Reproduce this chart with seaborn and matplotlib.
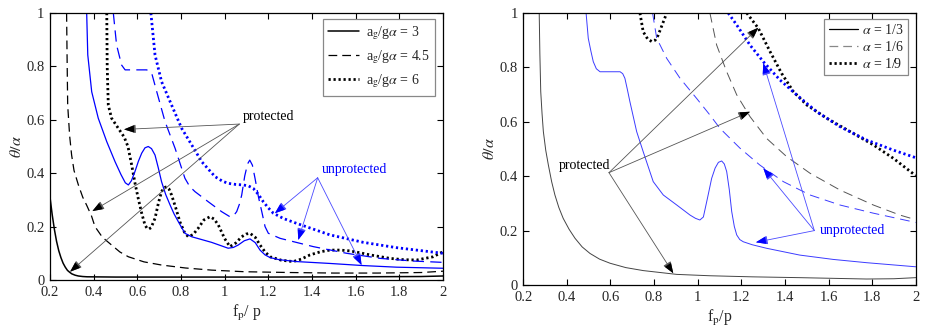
import numpy as np
import pandas as pd
import matplotlib
matplotlib.use("Agg")
import matplotlib.pyplot as plt
import seaborn as sns
from matplotlib.lines import Line2D

# ---------------- data ----------------
# Left panel: a_g/(g alpha) = 3, 4.5, 6 ; protected (black) / unprotected (blue)
L3p_x = [0.2, 0.21, 0.22, 0.23, 0.24, 0.25, 0.26, 0.27, 0.28, 0.29, 0.30, 0.315, 0.33, 0.35, 0.37,
         0.5, 0.8, 1.2, 1.6, 1.9, 2.0]
L3p_y = [0.31, 0.245, 0.19, 0.145, 0.11, 0.084, 0.063, 0.048, 0.036, 0.029, 0.023, 0.018, 0.015,
         0.013, 0.012, 0.011, 0.011, 0.011, 0.012, 0.013, 0.015]

L45p_x = [0.276, 0.278, 0.281, 0.29, 0.299, 0.31, 0.33, 0.35, 0.368, 0.39, 0.406, 0.44, 0.482, 0.52,
          0.559, 0.63, 0.711, 0.82, 0.94, 1.09, 1.3, 1.5, 1.7, 1.9, 2.0]
L45p_y = [1.0, 0.85, 0.655, 0.54, 0.468, 0.41, 0.356, 0.31, 0.28, 0.24, 0.2, 0.16, 0.131, 0.105,
          0.087, 0.068, 0.056, 0.045, 0.037, 0.031, 0.028, 0.026, 0.026, 0.028, 0.033]

L6p_x = [0.46, 0.462, 0.467, 0.482, 0.513, 0.54, 0.557, 0.574, 0.59, 0.604, 0.62, 0.635, 0.645,
         0.653, 0.663, 0.681, 0.697, 0.711, 0.723, 0.734, 0.745, 0.757, 0.776, 0.795, 0.815, 0.833,
         0.855, 0.879, 0.905, 0.933, 0.952, 0.971, 1.0, 1.024, 1.05, 1.078, 1.098, 1.116, 1.14,
         1.162, 1.185, 1.208, 1.26, 1.314, 1.35, 1.391, 1.44, 1.482, 1.53, 1.574, 1.62, 1.666,
         1.757, 1.82, 1.88, 1.955, 2.0]
L6p_y = [1.0, 0.8, 0.655, 0.606, 0.568, 0.535, 0.5, 0.431, 0.36, 0.306, 0.25, 0.206, 0.193,
         0.191, 0.196, 0.231, 0.29, 0.331, 0.346, 0.349, 0.341, 0.318, 0.27, 0.218, 0.18, 0.162,
         0.17, 0.194, 0.225, 0.237, 0.228, 0.206, 0.155, 0.125, 0.138, 0.162, 0.172, 0.175, 0.16,
         0.131, 0.105, 0.087, 0.074, 0.069, 0.078, 0.094, 0.106, 0.112, 0.112, 0.109, 0.102, 0.094,
         0.081, 0.076, 0.075, 0.087, 0.106]

L3u_x = [0.368, 0.373, 0.391, 0.421, 0.46, 0.498, 0.525, 0.545, 0.559, 0.573, 0.589, 0.605, 0.62,
         0.635, 0.65, 0.665, 0.681, 0.696, 0.711, 0.73, 0.75, 0.768, 0.788, 0.818, 0.849, 0.94,
         0.985, 1.016, 1.04, 1.062, 1.09, 1.116, 1.14, 1.162, 1.185, 1.208, 1.25, 1.33, 1.482, 1.635,
         1.788, 2.0]
L3u_y = [1.0, 0.843, 0.705, 0.606, 0.518, 0.443, 0.395, 0.364, 0.356, 0.372, 0.406, 0.445, 0.475,
         0.495, 0.5, 0.492, 0.468, 0.42, 0.368, 0.32, 0.281, 0.248, 0.218, 0.175, 0.162, 0.141,
         0.128, 0.119, 0.122, 0.131, 0.147, 0.154, 0.14, 0.112, 0.094, 0.084, 0.076, 0.069, 0.062,
         0.054, 0.048, 0.044]

L45u_x = [0.49, 0.505, 0.528, 0.544, 0.6, 0.643, 0.666, 0.689, 0.727, 0.773, 0.818, 0.84, 0.864,
          0.925, 0.986, 1.024, 1.04, 1.055, 1.068, 1.078, 1.092, 1.105, 1.115, 1.127, 1.139, 1.155,
          1.17, 1.185, 1.2, 1.254, 1.406, 1.559, 1.712, 1.864, 2.0]
L45u_y = [1.0, 0.88, 0.805, 0.787, 0.787, 0.787, 0.774, 0.705, 0.593, 0.493, 0.381, 0.35, 0.331,
          0.293, 0.256, 0.237, 0.24, 0.256, 0.285, 0.318, 0.39, 0.435, 0.449, 0.43, 0.381, 0.31,
          0.256, 0.2, 0.175, 0.156, 0.125, 0.1, 0.081, 0.071, 0.066]

L6u_x = [0.662, 0.681, 0.711, 0.757, 0.803, 0.849, 0.895, 0.956, 0.99, 1.016, 1.05, 1.085, 1.11,
         1.131, 1.155, 1.177, 1.2, 1.223, 1.27, 1.33, 1.482, 1.635, 1.788, 2.0]
L6u_y = [1.0, 0.843, 0.743, 0.655, 0.568, 0.506, 0.443, 0.387, 0.37, 0.362, 0.358, 0.356, 0.352,
         0.343, 0.32, 0.293, 0.27, 0.25, 0.23, 0.212, 0.169, 0.141, 0.121, 0.1]

# Right panel: alpha = 1/3, 1/6, 1/9 ; protected (black) / unprotected (blue)
R3p_x = [0.273, 0.276, 0.28, 0.286, 0.292, 0.303, 0.315, 0.33, 0.345, 0.363, 0.383, 0.41, 0.437,
         0.47, 0.506, 0.55, 0.598, 0.67, 0.75, 0.904, 1.056, 1.25, 1.468, 1.775, 1.9, 2.0]
R3p_y = [1.0, 0.85, 0.711, 0.63, 0.564, 0.495, 0.441, 0.38, 0.331, 0.285, 0.245, 0.205, 0.172,
         0.14, 0.116, 0.095, 0.08, 0.064, 0.053, 0.039, 0.034, 0.03, 0.027, 0.022, 0.023, 0.027]

R3u_x = [0.488, 0.498, 0.51, 0.521, 0.535, 0.552, 0.6, 0.644, 0.656, 0.666, 0.677, 0.689, 0.72,
         0.75, 0.796, 0.842, 0.904, 0.965, 0.99, 1.01, 1.026, 1.045, 1.064, 1.08, 1.095, 1.11,
         1.122, 1.133, 1.145, 1.156, 1.168, 1.179, 1.193, 1.209, 1.25, 1.316, 1.468, 1.622, 1.775,
         2.0]
R3u_y = [1.0, 0.907, 0.86, 0.821, 0.795, 0.784, 0.784, 0.784, 0.777, 0.76, 0.72, 0.674, 0.564,
         0.49, 0.38, 0.331, 0.294, 0.257, 0.245, 0.239, 0.25, 0.32, 0.392, 0.43, 0.451, 0.456,
         0.445, 0.417, 0.35, 0.27, 0.215, 0.184, 0.167, 0.159, 0.148, 0.135, 0.11, 0.094, 0.082,
         0.067]

R6p_x = [1.056, 1.087, 1.133, 1.179, 1.24, 1.316, 1.408, 1.515, 1.653, 1.806, 1.928, 2.0]
R6p_y = [1.0, 0.882, 0.784, 0.699, 0.619, 0.539, 0.472, 0.411, 0.349, 0.294, 0.257, 0.24]

R6u_x = [0.793, 0.812, 0.858, 0.919, 0.995, 1.056, 1.102, 1.194, 1.285, 1.393, 1.515, 1.653,
         1.806, 2.0]
R6u_y = [1.0, 0.907, 0.833, 0.76, 0.686, 0.625, 0.576, 0.503, 0.441, 0.38, 0.331, 0.294,
         0.264, 0.23]

R9p_x = [0.735, 0.75, 0.77, 0.789, 0.805, 0.819, 0.858, 0.9, 1.0, 1.1, 1.2, 1.225, 1.278, 1.332,
         1.385, 1.439, 1.5, 1.592, 1.699, 1.806, 1.897, 2.0]
R9p_y = [1.0, 0.931, 0.905, 0.895, 0.9, 0.919, 1.0, 1.1, 1.25, 1.2, 1.05, 1.0, 0.944, 0.858,
         0.778, 0.711, 0.662, 0.613, 0.564, 0.515, 0.466, 0.402]

R9u_x = [1.14, 1.179, 1.24, 1.301, 1.377, 1.454, 1.546, 1.653, 1.775, 1.897, 2.0]
R9u_y = [1.0, 0.956, 0.882, 0.821, 0.754, 0.699, 0.637, 0.582, 0.533, 0.496, 0.468]

x_ticks = [0.2, 0.4, 0.6, 0.8, 1.0, 1.2, 1.4, 1.6, 1.8, 2.0]
x_ticklabels = ["0.2", "0.4", "0.6", "0.8", "1", "1.2", "1.4", "1.6", "1.8", "2"]
y_ticks = [0, 0.2, 0.4, 0.6, 0.8, 1.0]
y_ticklabels = ["0", "0.2", "0.4", "0.6", "0.8", "1"]

left_legend = [r"a$_\mathrm{g}$/g$\alpha$ = 3", r"a$_\mathrm{g}$/g$\alpha$ = 4.5", r"a$_\mathrm{g}$/g$\alpha$ = 6"]
right_legend = [r"$\alpha$ = 1/3", r"$\alpha$ = 1/6", r"$\alpha$ = 1/9"]

# ---------------- style ----------------
sns.set_theme(style="ticks")
plt.rcParams["font.family"] = ["Liberation Serif", "DejaVu Serif"]
plt.rcParams["mathtext.fontset"] = "stix"
plt.rcParams["axes.linewidth"] = 0.9
plt.rcParams["xtick.direction"] = "in"
plt.rcParams["ytick.direction"] = "in"

BLUE = "#0000ff"
FS = 10.5
TXT = "#262626"

fig = plt.figure(figsize=(9.31, 3.33), dpi=100)
axL = fig.add_axes([50 / 931, 1 - 280 / 333, 393 / 931, 267 / 333])
axR = fig.add_axes([523.3 / 931, 1 - 285 / 333, 392.4 / 931, 272 / 333])


def curve(ax, x, y, color, lw, ls):
    df = pd.DataFrame({"x": x, "y": y})
    sns.lineplot(data=df, x="x", y="y", ax=ax, color=color, lw=lw, linestyle=ls,
                 sort=False, estimator=None, legend=False)


# left panel
curve(axL, L3p_x, L3p_y, "black", 1.1, "-")
curve(axL, L45p_x, L45p_y, "black", 0.9, (0, (7, 4)))
curve(axL, L6p_x, L6p_y, "black", 2.0, (0, (0.8, 1.0)))
curve(axL, L3u_x, L3u_y, BLUE, 0.9, "-")
curve(axL, L45u_x, L45u_y, BLUE, 0.9, (0, (9, 5)))
curve(axL, L6u_x, L6u_y, BLUE, 2.0, (0, (0.8, 1.0)))

# right panel
curve(axR, R3p_x, R3p_y, "#444444", 0.7, "-")
curve(axR, R6p_x, R6p_y, "#555555", 0.7, (0, (10, 6)))
curve(axR, R9p_x, R9p_y, "black", 2.0, (0, (0.8, 1.0)))
curve(axR, R3u_x, R3u_y, "#3b3bff", 0.7, "-")
curve(axR, R6u_x, R6u_y, "#3b3bff", 0.7, (0, (10, 6)))
curve(axR, R9u_x, R9u_y, BLUE, 2.0, (0, (0.8, 1.0)))


def arrows(ax, origin, targets, color, headcolor, lw):
    for t in targets:
        ax.annotate("", xy=t, xytext=origin,
                    arrowprops=dict(arrowstyle="-|>,head_length=0.6,head_width=0.22",
                                    color=color, lw=lw, shrinkA=0, shrinkB=0,
                                    mutation_scale=12))
        # darker head drawn on top
        ax.annotate("", xy=t, xytext=origin,
                    arrowprops=dict(arrowstyle="-|>,head_length=0.6,head_width=0.22",
                                    color=headcolor, lw=0.0, shrinkA=0, shrinkB=0,
                                    mutation_scale=12, alpha=1))


# left annotations
axL.text(1.082, 0.614, "protected", fontsize=10, color="black", va="center", ha="left")
arrows(axL, (1.067, 0.584), [(0.539, 0.564), (0.394, 0.258), (0.292, 0.031)], "#555555", "black", 0.6)
axL.text(1.444, 0.412, "unprotected", fontsize=10, color=BLUE, va="center", ha="left")
arrows(axL, (1.426, 0.383), [(1.23, 0.25), (1.337, 0.15), (1.627, 0.056)], "#4a4aff", BLUE, 0.6)

# right annotations
axR.text(0.362, 0.439, "protected", fontsize=10, color="black", va="center", ha="left")
arrows(axR, (0.593, 0.413), [(1.278, 0.946), (1.24, 0.637), (0.888, 0.043)], "#555555", "black", 0.6)
axR.text(1.558, 0.2, "unprotected", fontsize=10, color=BLUE, va="center", ha="left")
arrows(axR, (1.535, 0.2), [(1.301, 0.815), (1.301, 0.429), (1.267, 0.157)], "#4a4aff", BLUE, 0.6)

for ax, xl in ((axL, r"f$_\mathrm{p}$/ p"), (axR, r"f$_\mathrm{p}$/p")):
    ax.set_xlim(0.2, 2.0)
    ax.set_ylim(0, 1)
    ax.set_xticks(x_ticks)
    ax.set_xticklabels(x_ticklabels)
    ax.set_yticks(y_ticks)
    ax.set_yticklabels(y_ticklabels)
    ax.tick_params(axis="both", which="both", direction="in", top=True, right=True,
                   length=4, width=0.8, labelsize=FS, colors="black", labelcolor=TXT, pad=4)
    ax.set_xlabel(xl, fontsize=11.5, labelpad=3, color=TXT)
    ax.set_ylabel(r"$\theta/\alpha$", fontsize=11.5, labelpad=1, color=TXT)
    for s in ax.spines.values():
        s.set_visible(True)
        s.set_color("black")

# legends
hL = [Line2D([], [], color="black", lw=1.1, ls="-"),
      Line2D([], [], color="black", lw=0.9, ls=(0, (7, 4))),
      Line2D([], [], color="black", lw=2.0, ls=(0, (0.8, 1.0)))]
legL = axL.legend(hL, left_legend, loc="upper right", bbox_to_anchor=(0.98, 0.978),
                  borderaxespad=0, fontsize=10, frameon=True, fancybox=False,
                  edgecolor="#888888", framealpha=1, handlelength=2.2, labelspacing=0.45,
                  borderpad=0.4, handletextpad=0.5)
legL.get_frame().set_linewidth(0.9)
for t in legL.get_texts():
    t.set_color(TXT)

hR = [Line2D([], [], color="black", lw=0.9, ls="-"),
      Line2D([], [], color="#888888", lw=0.9, ls=(0, (7, 4))),
      Line2D([], [], color="black", lw=2.0, ls=(0, (0.8, 1.0)))]
legR = axR.legend(hR, right_legend, loc="upper right", bbox_to_anchor=(0.98, 0.978),
                  borderaxespad=0, fontsize=10, frameon=True, fancybox=False,
                  edgecolor="#888888", framealpha=1, handlelength=2.1, labelspacing=0.2,
                  borderpad=0.3, handletextpad=0.3)
legR.get_frame().set_linewidth(0.9)
for t in legR.get_texts():
    t.set_color(TXT)

fig.savefig("out.png", dpi=100)
